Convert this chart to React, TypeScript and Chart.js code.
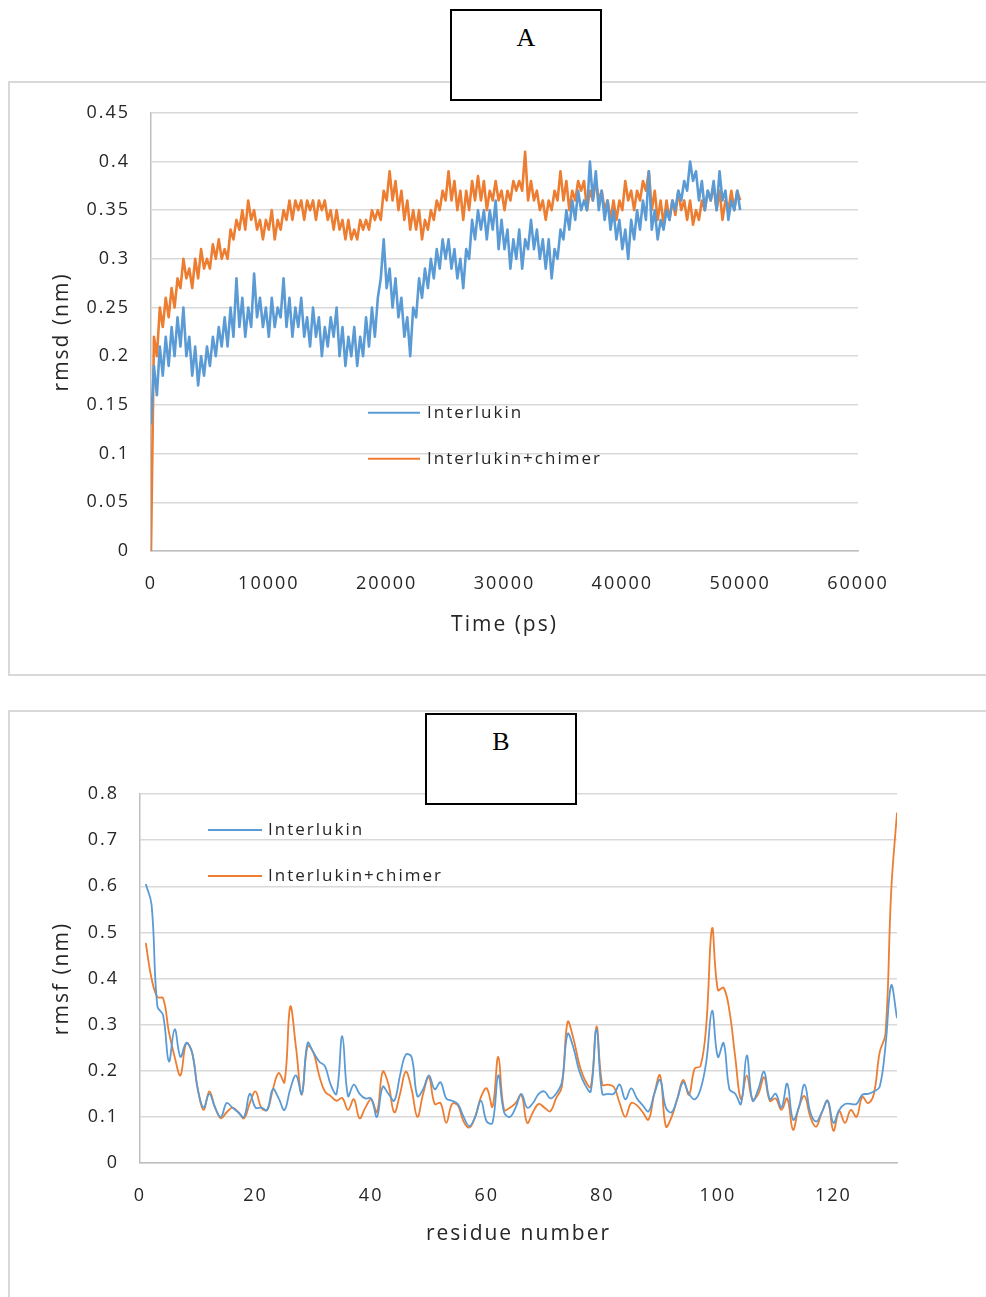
import React, { useEffect, useRef } from 'react';
import { Chart, registerables } from 'chart.js';

Chart.register(...registerables);

// ---------------- Data ----------------
const seriesNames = ['Interlukin', 'Interlukin+chimer'];

// Panel A: RMSD vs time, sampled every 250 ps from 0 to 50000 ps
const SAMPLE_STEP_PS = 250;
const rmsdInterlukin = [
  0.13, 0.19, 0.16, 0.21, 0.18, 0.22, 0.19, 0.23, 0.20, 0.24,
  0.21, 0.25, 0.20, 0.22, 0.18, 0.21, 0.17, 0.20, 0.18, 0.21,
  0.19, 0.22, 0.20, 0.23, 0.21, 0.24, 0.21, 0.25, 0.22, 0.28,
  0.23, 0.26, 0.22, 0.25, 0.23, 0.285, 0.24, 0.26, 0.23, 0.25,
  0.22, 0.26, 0.23, 0.25, 0.24, 0.28, 0.23, 0.26, 0.22, 0.25,
  0.23, 0.26, 0.22, 0.24, 0.21, 0.25, 0.22, 0.24, 0.20, 0.23,
  0.21, 0.24, 0.22, 0.25, 0.20, 0.23, 0.19, 0.22, 0.20, 0.23,
  0.19, 0.22, 0.20, 0.24, 0.21, 0.25, 0.22, 0.26, 0.28, 0.32,
  0.27, 0.29, 0.25, 0.28, 0.24, 0.26, 0.22, 0.24, 0.20, 0.25,
  0.24, 0.28, 0.26, 0.29, 0.27, 0.30, 0.28, 0.31, 0.29, 0.32,
  0.30, 0.32, 0.29, 0.31, 0.28, 0.30, 0.27, 0.31, 0.30, 0.34,
  0.32, 0.35, 0.33, 0.35, 0.32, 0.35, 0.33, 0.36, 0.31, 0.34,
  0.31, 0.33, 0.29, 0.32, 0.30, 0.33, 0.29, 0.32, 0.31, 0.34,
  0.31, 0.33, 0.30, 0.32, 0.29, 0.32, 0.28, 0.31, 0.30, 0.33,
  0.32, 0.35, 0.33, 0.36, 0.34, 0.37, 0.35, 0.36, 0.35, 0.40,
  0.36, 0.39, 0.35, 0.37, 0.34, 0.36, 0.33, 0.35, 0.32, 0.34,
  0.31, 0.33, 0.30, 0.34, 0.32, 0.35, 0.33, 0.36, 0.34, 0.39,
  0.33, 0.35, 0.32, 0.34, 0.33, 0.35, 0.34, 0.36, 0.35, 0.37,
  0.36, 0.38, 0.37, 0.40, 0.38, 0.39, 0.36, 0.38, 0.35, 0.37,
  0.36, 0.38, 0.35, 0.39, 0.36, 0.37, 0.34, 0.36, 0.35, 0.37,
  0.35,
];
const rmsdInterlukinChimer = [
  0.00, 0.22, 0.20, 0.25, 0.23, 0.26, 0.24, 0.27, 0.25, 0.28,
  0.27, 0.30, 0.28, 0.29, 0.27, 0.30, 0.28, 0.31, 0.29, 0.30,
  0.29, 0.315, 0.30, 0.32, 0.30, 0.31, 0.30, 0.33, 0.32, 0.34,
  0.33, 0.35, 0.33, 0.36, 0.34, 0.35, 0.33, 0.34, 0.32, 0.34,
  0.33, 0.35, 0.32, 0.34, 0.33, 0.35, 0.34, 0.36, 0.34, 0.36,
  0.35, 0.36, 0.34, 0.36, 0.35, 0.36, 0.34, 0.36, 0.35, 0.36,
  0.34, 0.35, 0.33, 0.35, 0.33, 0.34, 0.32, 0.34, 0.32, 0.33,
  0.32, 0.34, 0.33, 0.34, 0.33, 0.35, 0.34, 0.35, 0.34, 0.37,
  0.36, 0.39, 0.36, 0.38, 0.35, 0.37, 0.34, 0.36, 0.33, 0.35,
  0.33, 0.35, 0.32, 0.34, 0.33, 0.35, 0.34, 0.36, 0.35, 0.37,
  0.36, 0.39, 0.36, 0.38, 0.35, 0.37, 0.34, 0.37, 0.35, 0.38,
  0.36, 0.385, 0.36, 0.38, 0.35, 0.37, 0.36, 0.38, 0.36, 0.37,
  0.35, 0.37, 0.36, 0.38, 0.37, 0.38, 0.37, 0.41, 0.36, 0.38,
  0.36, 0.37, 0.35, 0.36, 0.34, 0.36, 0.35, 0.37, 0.36, 0.39,
  0.36, 0.38, 0.35, 0.37, 0.36, 0.38, 0.37, 0.38, 0.35, 0.37,
  0.36, 0.38, 0.36, 0.37, 0.35, 0.36, 0.34, 0.36, 0.34, 0.36,
  0.35, 0.38, 0.36, 0.37, 0.35, 0.37, 0.36, 0.38, 0.37, 0.39,
  0.35, 0.37, 0.34, 0.36, 0.335, 0.36, 0.34, 0.36, 0.345, 0.37,
  0.35, 0.36, 0.34, 0.36, 0.335, 0.35, 0.34, 0.36, 0.35, 0.37,
  0.36, 0.375, 0.35, 0.37, 0.34, 0.36, 0.35, 0.37, 0.35, 0.37,
  0.36,
];
const timeTickLabels = ['0', '10000', '20000', '30000', '40000', '50000', '60000'];
const rmsdTickLabels = ['0', '0.05', '0.1', '0.15', '0.2', '0.25', '0.3', '0.35', '0.4', '0.45'];

// Panel B: RMSF per residue, residues 1..131
const rmsfInterlukin = [
  0.605, 0.56, 0.34, 0.32, 0.22, 0.29, 0.23, 0.26, 0.24, 0.16,
  0.12, 0.15, 0.12, 0.10, 0.13, 0.12, 0.11, 0.10, 0.15, 0.12,
  0.12, 0.115, 0.16, 0.14, 0.115, 0.16, 0.19, 0.15, 0.26, 0.24,
  0.22, 0.21, 0.17, 0.15, 0.275, 0.145, 0.17, 0.15, 0.14, 0.14,
  0.10, 0.165, 0.15, 0.135, 0.19, 0.235, 0.23, 0.145, 0.16, 0.19,
  0.16, 0.175, 0.14, 0.135, 0.128, 0.10, 0.08, 0.10, 0.135, 0.09,
  0.087, 0.19, 0.11, 0.10, 0.12, 0.15, 0.12, 0.13, 0.15, 0.155,
  0.14, 0.15, 0.175, 0.28, 0.25, 0.20, 0.17, 0.155, 0.29, 0.15,
  0.15, 0.15, 0.17, 0.138, 0.162, 0.14, 0.125, 0.112, 0.15, 0.18,
  0.12, 0.11, 0.14, 0.175, 0.15, 0.138, 0.16, 0.22, 0.33, 0.23,
  0.26, 0.16, 0.15, 0.128, 0.233, 0.135, 0.16, 0.198, 0.138, 0.15,
  0.12, 0.172, 0.094, 0.12, 0.17, 0.11, 0.09, 0.11, 0.135, 0.087,
  0.115, 0.128, 0.128, 0.128, 0.148, 0.15, 0.155, 0.165, 0.253, 0.385,
  0.314,
];
const rmsfInterlukinChimer = [
  0.477, 0.40, 0.36, 0.357, 0.284, 0.23, 0.19, 0.26, 0.24, 0.16,
  0.115, 0.155, 0.12, 0.097, 0.11, 0.12, 0.11, 0.097, 0.13, 0.155,
  0.12, 0.115, 0.16, 0.195, 0.175, 0.339, 0.25, 0.148, 0.253, 0.24,
  0.19, 0.155, 0.145, 0.135, 0.141, 0.115, 0.138, 0.097, 0.12, 0.138,
  0.11, 0.198, 0.17, 0.11, 0.15, 0.198, 0.16, 0.10, 0.15, 0.186,
  0.128, 0.13, 0.087, 0.128, 0.125, 0.09, 0.077, 0.10, 0.143, 0.162,
  0.122, 0.23, 0.115, 0.12, 0.13, 0.148, 0.087, 0.11, 0.128, 0.12,
  0.112, 0.14, 0.165, 0.306, 0.27, 0.215, 0.18, 0.165, 0.296, 0.17,
  0.17, 0.165, 0.13, 0.10, 0.13, 0.125, 0.11, 0.094, 0.15, 0.19,
  0.079, 0.10, 0.14, 0.18, 0.148, 0.205, 0.21, 0.30, 0.509, 0.375,
  0.38, 0.33, 0.23, 0.138, 0.19, 0.138, 0.15, 0.186, 0.135, 0.14,
  0.115, 0.14, 0.072, 0.12, 0.145, 0.10, 0.079, 0.11, 0.135, 0.07,
  0.112, 0.087, 0.115, 0.10, 0.143, 0.13, 0.15, 0.24, 0.28, 0.59,
  0.76,
];
const FIRST_RESIDUE = 1;
const residueTickLabels = ['0', '20', '40', '60', '80', '100', '120'];
const rmsfTickLabels = ['0', '0.1', '0.2', '0.3', '0.4', '0.5', '0.6', '0.7', '0.8'];

// ---------------- Styles ----------------
const FONT = '"Open Sans", sans-serif';
const TEXT = '#262626';
const GRID = '#d9d9d9';
const AXIS = '#bfbfbf';
const BLUE = '#5b9bd5';
const ORANGE = '#ed7d31';
const TICK_SIZE = 18;
const TITLE_SIZE = 21;

const spacingPlugin = {
  id: 'letterSpacing',
  beforeLayout(chart: any) {
    chart.ctx.letterSpacing = '2px';
  },
  beforeDraw(chart: any) {
    chart.ctx.letterSpacing = '2px';
  },
};

const inlineLegendPlugin = {
  id: 'inlineLegend',
  afterDraw(chart: any, _args: any, opts: any) {
    const { ctx, chartArea } = chart;
    ctx.save();
    ctx.letterSpacing = '2px';
    ctx.font = `17px ${FONT}`;
    ctx.textBaseline = 'middle';
    ctx.textAlign = 'left';
    chart.data.datasets.forEach((ds: any, i: number) => {
      const x = chartArea.left + opts.left;
      const y = chartArea.top + opts.top + i * opts.gap;
      ctx.strokeStyle = ds.borderColor;
      ctx.lineWidth = 2;
      ctx.beginPath();
      ctx.moveTo(x, y);
      ctx.lineTo(x + opts.lineLen, y);
      ctx.stroke();
      ctx.fillStyle = TEXT;
      ctx.fillText(ds.label, x + opts.lineLen + opts.textGap, y);
    });
    ctx.restore();
  },
};

function makeConfig(p: any) {
  return {
    type: 'line',
    data: {
      datasets: p.series.map((s: any) => ({
        label: s.label,
        data: s.x.map((x: number, i: number) => ({ x, y: s.y[i] })),
        borderColor: s.color,
        backgroundColor: s.color,
        borderWidth: p.lineWidth,
        pointRadius: 0,
        tension: p.tension,
        fill: false,
        borderJoinStyle: 'round',
      })),
    },
    options: {
      responsive: false,
      animation: false,
      events: [],
      layout: { padding: p.padding },
      plugins: {
        legend: { display: false },
        tooltip: { enabled: false },
        inlineLegend: p.legend,
      },
      scales: {
        x: {
          type: 'linear',
          min: 0,
          max: p.xMax,
          afterBuildTicks: (s: any) => {
            s.ticks = p.xLabels.map((l: string) => ({ value: Number(l) }));
          },
          ticks: {
            padding: 22,
            maxRotation: 0,
            autoSkip: false,
            color: TEXT,
            font: { family: FONT, size: TICK_SIZE },
            callback: (_v: any, i: number) => p.xLabels[i],
          },
          grid: { display: false, drawTicks: false },
          border: { display: true, color: AXIS, width: 1.5 },
          title: {
            display: true,
            text: p.xTitle,
            color: TEXT,
            font: { family: FONT, size: TITLE_SIZE },
            padding: { top: 0, bottom: p.xTitlePad },
          },
          afterFit: (s: any) => {
            s.height = 100;
          },
        },
        y: {
          type: 'linear',
          min: 0,
          max: Number(p.yLabels[p.yLabels.length - 1]),
          afterBuildTicks: (s: any) => {
            s.ticks = p.yLabels.map((l: string) => ({ value: Number(l) }));
          },
          ticks: {
            padding: 21,
            autoSkip: false,
            color: TEXT,
            font: { family: FONT, size: TICK_SIZE },
            callback: (_v: any, i: number) => p.yLabels[i],
          },
          grid: { color: GRID, lineWidth: 1.5, drawTicks: false },
          border: { display: true, color: AXIS, width: 1.5 },
          title: {
            display: true,
            text: p.yTitle,
            color: TEXT,
            font: { family: FONT, size: TITLE_SIZE },
            padding: { top: 41, bottom: 0 },
          },
          afterFit: (s: any) => {
            s.width = p.yWidth;
          },
        },
      },
    },
    plugins: [spacingPlugin, inlineLegendPlugin],
  };
}

export default function App() {
  const refA = useRef<HTMLCanvasElement>(null);
  const refB = useRef<HTMLCanvasElement>(null);

  useEffect(() => {
    const timePs = rmsdInterlukin.map((_, i) => i * SAMPLE_STEP_PS);
    const residues = rmsfInterlukin.map((_, i) => i + FIRST_RESIDUE);

    const chartA = new Chart(
      refA.current as HTMLCanvasElement,
      makeConfig({
        series: [
          { label: seriesNames[0], x: timePs, y: rmsdInterlukin, color: BLUE },
          { label: seriesNames[1], x: timePs, y: rmsdInterlukinChimer, color: ORANGE },
        ],
        lineWidth: 2.6,
        tension: 0,
        padding: { left: 0, top: 30, right: 128, bottom: 25 },
        legend: { left: 217, top: 300, gap: 46, lineLen: 52, textGap: 7 },
        xMax: 60000,
        xLabels: timeTickLabels,
        xTitle: 'Time (ps)',
        xTitlePad: 13,
        yLabels: rmsdTickLabels,
        yTitle: 'rmsd (nm)',
        yWidth: 143,
      }) as any
    );

    const chartB = new Chart(
      refB.current as HTMLCanvasElement,
      makeConfig({
        series: [
          { label: seriesNames[0], x: residues, y: rmsfInterlukin, color: BLUE },
          { label: seriesNames[1], x: residues, y: rmsfInterlukinChimer, color: ORANGE },
        ],
        lineWidth: 1.8,
        tension: 0.4,
        padding: { left: 0, top: 84, right: 89, bottom: 34 },
        legend: { left: 68, top: 36, gap: 46, lineLen: 54, textGap: 6 },
        xMax: 131,
        xLabels: residueTickLabels,
        xTitle: 'residue number',
        xTitlePad: 16,
        yLabels: rmsfTickLabels,
        yTitle: 'rmsf (nm)',
        yWidth: 132,
      }) as any
    );

    return () => {
      chartA.destroy();
      chartB.destroy();
    };
  }, []);

  const panel = (top: number, height: number): React.CSSProperties => ({
    position: 'absolute',
    left: 8,
    top,
    width: 1000,
    height,
    border: '2px solid #d9d9d9',
    boxSizing: 'border-box',
  });

  const labelBox = (left: number, top: number): React.CSSProperties => ({
    position: 'absolute',
    left,
    top,
    width: 152,
    height: 92,
    border: '2px solid #000',
    boxSizing: 'border-box',
    background: '#fff',
    textAlign: 'center',
    fontFamily: '"Liberation Serif", "Times New Roman", serif',
    fontSize: 26,
    lineHeight: '30px',
    paddingTop: 12,
    color: '#000',
    zIndex: 2,
  });

  return (
    <div
      style={{
        position: 'absolute',
        left: 0,
        top: 0,
        width: 986,
        height: 1297,
        overflow: 'hidden',
        background: '#fff',
      }}
    >
      <div style={panel(81, 595)} />
      <div style={panel(710, 700)} />
      <canvas
        ref={refA}
        width={978}
        height={595}
        style={{ position: 'absolute', left: 8, top: 81, width: 978, height: 595, zIndex: 1 }}
      />
      <canvas
        ref={refB}
        width={978}
        height={587}
        style={{ position: 'absolute', left: 8, top: 710, width: 978, height: 587, zIndex: 1 }}
      />
      <div style={labelBox(450, 9)}>A</div>
      <div style={labelBox(425, 713)}>B</div>
    </div>
  );
}
